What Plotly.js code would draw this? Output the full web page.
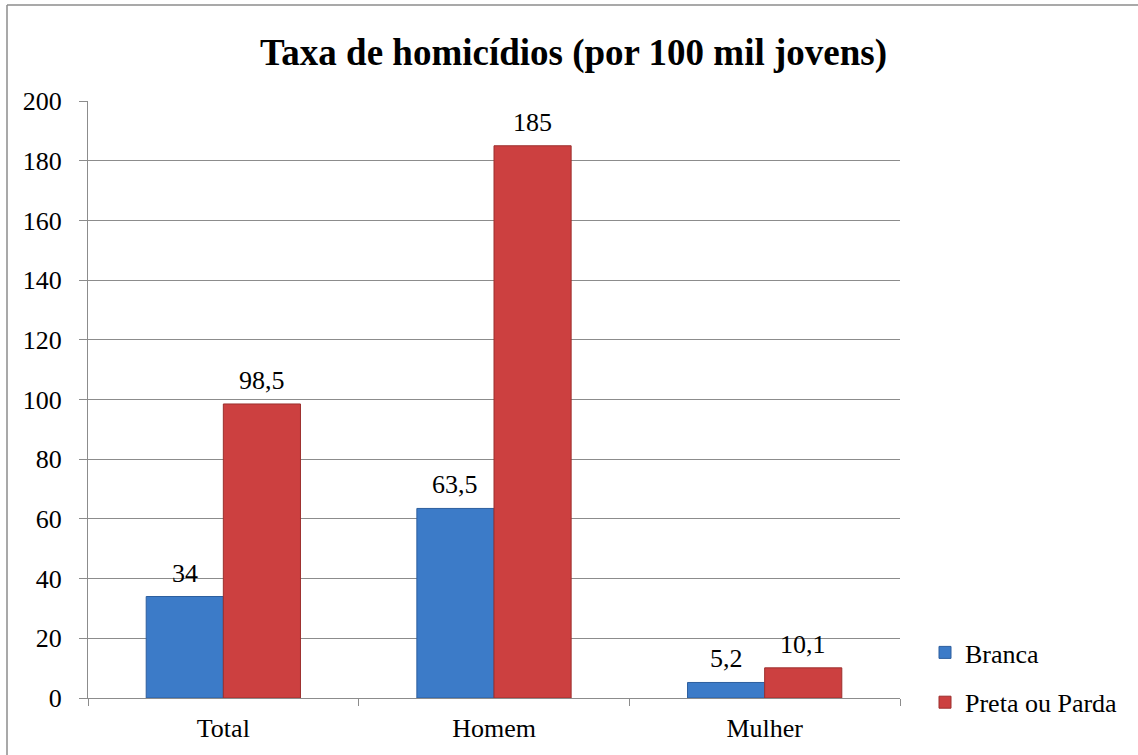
<!DOCTYPE html>
<html>
<head>
<meta charset="utf-8">
<script src="https://cdn.plot.ly/plotly-3.0.1.min.js"></script>
<style>
html,body{margin:0;padding:0;background:#fff;}
#chart{width:1138px;height:755px;}
</style>
</head>
<body>
<div id="chart"></div>
<script>
const categories = ["Total", "Homem", "Mulher"];
const branca = [34, 63.5, 5.2];
const pretaParda = [98.5, 185, 10.1];
const seriesNames = ["Branca", "Preta ou Parda"];
const yTicks = [0, 20, 40, 60, 80, 100, 120, 140, 160, 180, 200];

const fmt = v => String(v).replace('.', ',');
const SERIF = "'Liberation Serif', 'Times New Roman', serif";
const labelFont = {family: SERIF, size: 26, color: "#000"};
const BARGAP = 0.43;

const traces = [
  {
    type: "bar", name: seriesNames[0], x: categories, y: branca,
    legendgroup: "a",
    marker: {color: "#3c7bc8", line: {color: "#2d5f9e", width: 1}}
  },
  {
    type: "bar", name: seriesNames[1], x: categories, y: pretaParda,
    legendgroup: "b",
    marker: {color: "#cc4040", line: {color: "#9c2f2d", width: 1}}
  }
];

// value labels above each bar (positioned from the data, offset by half a bar)
const half = (1 - BARGAP) / 4;
const annotations = [];
[branca, pretaParda].forEach((vals, s) => {
  vals.forEach((v, j) => {
    annotations.push({
      x: j + (s === 0 ? -half : half), y: v, xref: "x", yref: "y",
      text: fmt(v), showarrow: false, yanchor: "bottom", xanchor: "center",
      yshift: 7, font: labelFont
    });
  });
});

const L = 88, R = 900, T = 101, B = 698, W = 1138, H = 755;
const px = v => (v - L) / (R - L);
const py = v => (B - v) / (B - T);

const layout = {
  width: W, height: H,
  margin: {l: L, r: W - R, t: T, b: H - B},
  paper_bgcolor: "#fff", plot_bgcolor: "#fff",
  font: labelFont,
  title: {
    text: "<b>Taxa de homicídios (por 100 mil jovens)</b>",
    font: {family: SERIF, size: 37, color: "#000"},
    x: 0.504, xanchor: "center", y: 1 - 52 / H, yanchor: "middle"
  },
  barmode: "group",
  bargap: BARGAP,
  bargroupgap: 0,
  xaxis: {
    type: "category",
    tickson: "boundaries",
    ticks: "outside", ticklen: 7, tickcolor: "#8c8c8c", tickwidth: 1,
    ticklabelstandoff: 7,
    showline: true, linecolor: "#8c8c8c", linewidth: 1,
    showgrid: false, zeroline: false,
    tickfont: labelFont
  },
  yaxis: {
    range: [0, 200],
    tickvals: yTicks,
    ticktext: yTicks.map(String),
    ticks: "outside", ticklen: 8, tickcolor: "#8c8c8c", tickwidth: 1,
    ticklabelstandoff: 12,
    showline: true, linecolor: "#8c8c8c", linewidth: 1,
    showgrid: true, gridcolor: "#8c8c8c", gridwidth: 1,
    zeroline: false,
    tickfont: labelFont
  },
  showlegend: true,
  legend: {
    x: px(925), xanchor: "left",
    y: py(629), yanchor: "top",
    font: labelFont,
    traceorder: "grouped",
    tracegroupgap: 13,
    itemwidth: 30,
    bgcolor: "rgba(0,0,0,0)"
  },
  annotations: annotations,
  shapes: [
    {type: "line", xref: "paper", yref: "paper",
     x0: px(7), x1: px(7), y0: py(H + 5), y1: py(5),
     line: {color: "#8c8c8c", width: 1.5}},
    {type: "line", xref: "paper", yref: "paper",
     x0: px(7), x1: px(W + 5), y0: py(5), y1: py(5),
     line: {color: "#8c8c8c", width: 1.5}}
  ]
};

Plotly.newPlot("chart", traces, layout, {displayModeBar: false, staticPlot: true});
</script>
</body>
</html>
